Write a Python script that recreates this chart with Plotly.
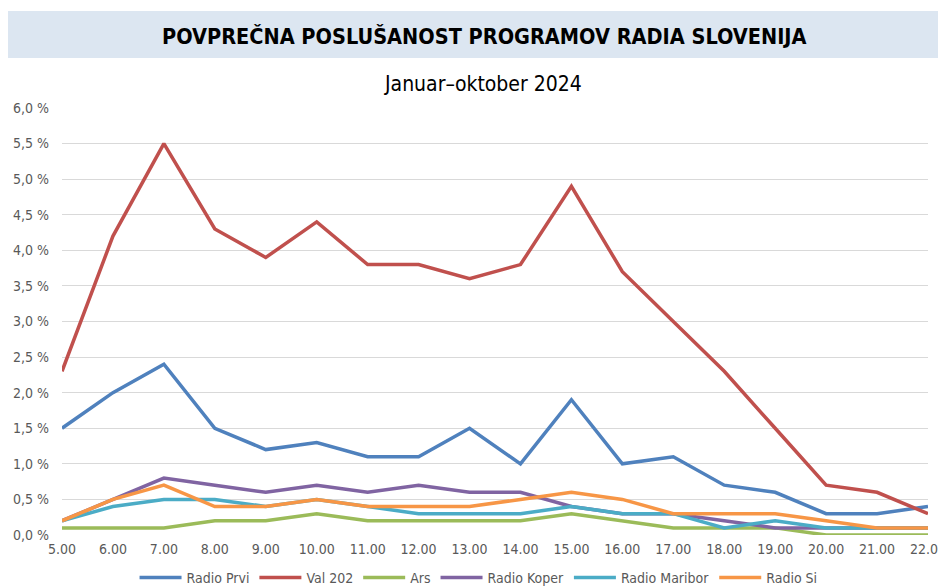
import plotly.graph_objects as go

hours = ["5.00", "6.00", "7.00", "8.00", "9.00", "10.00", "11.00", "12.00", "13.00",
         "14.00", "15.00", "16.00", "17.00", "18.00", "19.00", "20.00", "21.00", "22.00"]
radio_prvi = [1.5, 2.0, 2.4, 1.5, 1.2, 1.3, 1.1, 1.1, 1.5, 1.0, 1.9, 1.0, 1.1, 0.7, 0.6, 0.3, 0.3, 0.4]
val_202 = [2.3, 4.2, 5.5, 4.3, 3.9, 4.4, 3.8, 3.8, 3.6, 3.8, 4.9, 3.7, 3.0, 2.3, 1.5, 0.7, 0.6, 0.3]
ars = [0.1, 0.1, 0.1, 0.2, 0.2, 0.3, 0.2, 0.2, 0.2, 0.2, 0.3, 0.2, 0.1, 0.1, 0.1, 0.0, 0.0, 0.0]
radio_koper = [0.2, 0.5, 0.8, 0.7, 0.6, 0.7, 0.6, 0.7, 0.6, 0.6, 0.4, 0.3, 0.3, 0.2, 0.1, 0.1, 0.1, 0.1]
radio_maribor = [0.2, 0.4, 0.5, 0.5, 0.4, 0.5, 0.4, 0.3, 0.3, 0.3, 0.4, 0.3, 0.3, 0.1, 0.2, 0.1, 0.1, 0.1]
radio_si = [0.2, 0.5, 0.7, 0.4, 0.4, 0.5, 0.4, 0.4, 0.4, 0.5, 0.6, 0.5, 0.3, 0.3, 0.3, 0.2, 0.1, 0.1]
y_ticks = [0, 0.5, 1.0, 1.5, 2.0, 2.5, 3.0, 3.5, 4.0, 4.5, 5.0, 5.5, 6.0]
y_tick_labels = ["0,0 %", "0,5 %", "1,0 %", "1,5 %", "2,0 %", "2,5 %", "3,0 %",
                 "3,5 %", "4,0 %", "4,5 %", "5,0 %", "5,5 %", "6,0 %"]

series = [
    ("Radio Prvi", radio_prvi, "#4F81BD"),
    ("Val 202", val_202, "#C0504D"),
    ("Ars", ars, "#9BBB59"),
    ("Radio Koper", radio_koper, "#8064A2"),
    ("Radio Maribor", radio_maribor, "#4BACC6"),
    ("Radio Si", radio_si, "#F79646"),
]

FONT = "DejaVu Sans Condensed, DejaVu Sans"

fig = go.Figure()
for name, vals, col in series:
    fig.add_trace(go.Scatter(x=hours, y=vals, name=name, mode="lines",
                             line=dict(color=col, width=3.5)))

# page body adds an 8px offset, so the figure is 8px smaller and margins shifted
fig.update_layout(
    width=938, height=579,
    margin=dict(l=54, r=18, t=100, b=52, autoexpand=False),
    paper_bgcolor="white", plot_bgcolor="white",
    font=dict(family=FONT, color="#595959", size=14),
    showlegend=True,
    legend=dict(orientation="h", x=0.481, xanchor="center", y=-0.1007, yanchor="middle",
                font=dict(size=14, color="#595959", family=FONT), itemwidth=42,
                tracegroupgap=0),
    shapes=[dict(type="rect", xref="paper", yref="paper",
                 x0=-0.0647, x1=1.03, y0=1.117, y1=1.227,
                 fillcolor="#DCE6F1", line=dict(width=0), layer="below")],
    annotations=[
        dict(text="<b>POVPREČNA POSLUŠANOST PROGRAMOV RADIA SLOVENIJA</b>",
             xref="paper", yref="paper", x=0.488, y=1.1686, xanchor="center", yanchor="middle",
             showarrow=False, font=dict(family=FONT, size=21.5, color="black")),
        dict(text="Januar–oktober 2024",
             xref="paper", yref="paper", x=0.486, y=1.056, xanchor="center", yanchor="middle",
             showarrow=False, font=dict(family=FONT, size=21, color="black")),
    ],
)
fig.update_xaxes(type="category", showgrid=False, showline=False, ticks="", automargin=False,
                 tickfont=dict(size=14, color="#595959"), range=[0, 17], ticklabelstandoff=4)
fig.update_yaxes(range=[0, 6.0], tickvals=y_ticks, ticktext=y_tick_labels, automargin=False,
                 showgrid=True, gridcolor="#D9D9D9", gridwidth=1, zeroline=False,
                 showline=False, tickfont=dict(size=14, color="#595959"), ticklabelstandoff=12)

fig.write_html("out.html")
